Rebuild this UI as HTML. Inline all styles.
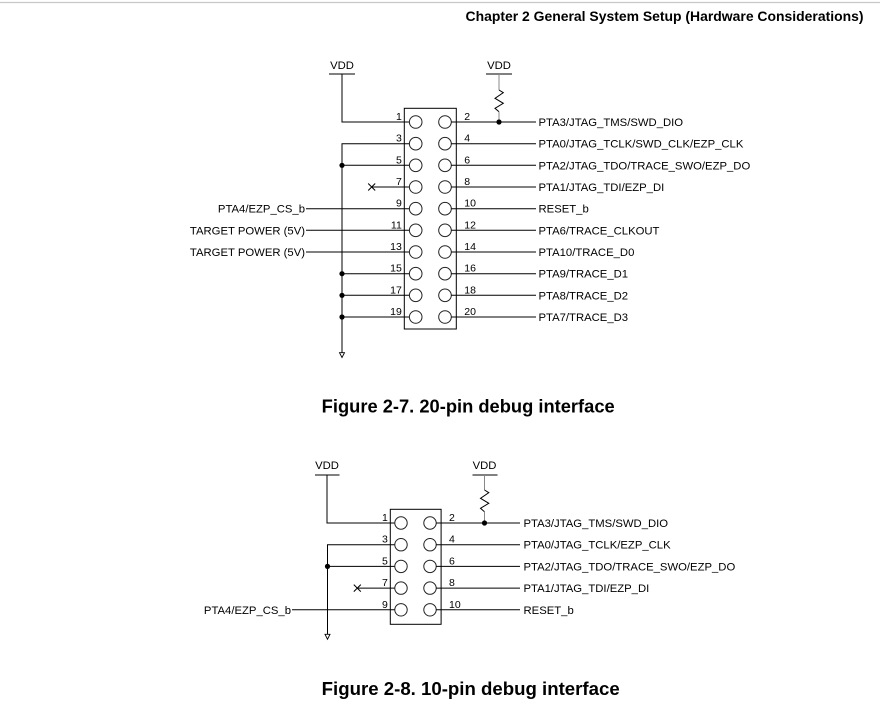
<!DOCTYPE html>
<html>
<head>
<meta charset="utf-8">
<style>
html,body{margin:0;padding:0;background:#fff;}
svg{display:block;}
text{font-family:"Liberation Sans",Arial,sans-serif;fill:#000;}
.lbl{font-size:11.3px;}
.num{font-size:10.5px;}
.ln{stroke:#000;stroke-width:1;fill:none;}
.cir{stroke:#222;stroke-width:1;fill:#fff;}
</style>
</head>
<body>
<svg width="880" height="713" viewBox="0 0 880 713" xmlns="http://www.w3.org/2000/svg">
<line x1="0" y1="2.5" x2="880" y2="2.5" stroke="#c8c8c8" stroke-width="1.2"/>
<text x="863.5" y="21" text-anchor="end" font-size="13.5" font-weight="bold" textLength="398" lengthAdjust="spacingAndGlyphs">Chapter 2 General System Setup (Hardware Considerations)</text>

<!-- ================= 20-pin ================= -->
<g>
  <text class="lbl" x="342" y="69" text-anchor="middle">VDD</text>
  <line class="ln" x1="329" y1="74" x2="355" y2="74"/>
  <polyline class="ln" points="342,74 342,122 409.4,122"/>
  <text class="lbl" x="499" y="69" text-anchor="middle">VDD</text>
  <line class="ln" x1="486" y1="74" x2="512" y2="74"/>
  <line x1="499" y1="74" x2="499" y2="90" stroke="#888" stroke-width="1"/>
  <polyline class="ln" points="499,90 503.3,92.7 495,98.3 503.3,103.3 495,108.3 499,111.7"/>
  <line x1="499" y1="111.7" x2="499" y2="122" stroke="#888" stroke-width="1"/>
  <circle cx="499" cy="122" r="2.6" fill="#000"/>

  <rect x="404.3" y="108.3" width="52" height="220.7" fill="none" stroke="#000" stroke-width="1"/>

  <polyline class="ln" points="409.4,143.7 342,143.7 342,352.7"/>
  <polygon points="339.5,352.7 344.5,352.7 342,357.5" fill="#fff" stroke="#000" stroke-width="0.9"/>
  <line class="ln" x1="342" y1="165.3" x2="409.4" y2="165.3"/>
  <circle cx="342" cy="165.3" r="2.6" fill="#000"/>
  <line class="ln" x1="342" y1="273.7" x2="409.4" y2="273.7"/>
  <circle cx="342" cy="273.7" r="2.6" fill="#000"/>
  <line class="ln" x1="342" y1="295.3" x2="409.4" y2="295.3"/>
  <circle cx="342" cy="295.3" r="2.6" fill="#000"/>
  <line class="ln" x1="342" y1="317" x2="409.4" y2="317"/>
  <circle cx="342" cy="317" r="2.6" fill="#000"/>

  <line class="ln" x1="371.7" y1="187" x2="409.4" y2="187"/>
  <line class="ln" x1="368.2" y1="183.5" x2="375.2" y2="190.5"/>
  <line class="ln" x1="368.2" y1="190.5" x2="375.2" y2="183.5"/>

  <text class="lbl" x="305" y="212.7" text-anchor="end">PTA4/EZP_CS_b</text>
  <line class="ln" x1="306" y1="208.7" x2="409.4" y2="208.7"/>
  <text class="lbl" x="305" y="234.3" text-anchor="end">TARGET POWER (5V)</text>
  <line class="ln" x1="306" y1="230.3" x2="409.4" y2="230.3"/>
  <text class="lbl" x="305" y="256" text-anchor="end">TARGET POWER (5V)</text>
  <line class="ln" x1="306" y1="252" x2="409.4" y2="252"/>

  <g class="cir">
    <circle cx="415.7" cy="122" r="6.3"/><circle cx="445" cy="122" r="6.3"/>
    <circle cx="415.7" cy="143.7" r="6.3"/><circle cx="445" cy="143.7" r="6.3"/>
    <circle cx="415.7" cy="165.3" r="6.3"/><circle cx="445" cy="165.3" r="6.3"/>
    <circle cx="415.7" cy="187" r="6.3"/><circle cx="445" cy="187" r="6.3"/>
    <circle cx="415.7" cy="208.7" r="6.3"/><circle cx="445" cy="208.7" r="6.3"/>
    <circle cx="415.7" cy="230.3" r="6.3"/><circle cx="445" cy="230.3" r="6.3"/>
    <circle cx="415.7" cy="252" r="6.3"/><circle cx="445" cy="252" r="6.3"/>
    <circle cx="415.7" cy="273.7" r="6.3"/><circle cx="445" cy="273.7" r="6.3"/>
    <circle cx="415.7" cy="295.3" r="6.3"/><circle cx="445" cy="295.3" r="6.3"/>
    <circle cx="415.7" cy="317" r="6.3"/><circle cx="445" cy="317" r="6.3"/>
  </g>

  <g text-anchor="end">
    <text class="num" x="401.8" y="120">1</text>
    <text class="num" x="401.8" y="141.7">3</text>
    <text class="num" x="401.8" y="163.3">5</text>
    <text class="num" x="401.8" y="185">7</text>
    <text class="num" x="401.8" y="206.7">9</text>
    <text class="num" x="401.8" y="228.3">11</text>
    <text class="num" x="401.8" y="250">13</text>
    <text class="num" x="401.8" y="271.7">15</text>
    <text class="num" x="401.8" y="293.3">17</text>
    <text class="num" x="401.8" y="315">19</text>
  </g>
  <g>
    <text class="num" x="464.3" y="120">2</text>
    <text class="num" x="464.3" y="141.7">4</text>
    <text class="num" x="464.3" y="163.3">6</text>
    <text class="num" x="464.3" y="185">8</text>
    <text class="num" x="464.3" y="206.7">10</text>
    <text class="num" x="464.3" y="228.3">12</text>
    <text class="num" x="464.3" y="250">14</text>
    <text class="num" x="464.3" y="271.7">16</text>
    <text class="num" x="464.3" y="293.3">18</text>
    <text class="num" x="464.3" y="315">20</text>
  </g>

  <g class="ln">
    <line x1="451.3" y1="122" x2="536" y2="122"/>
    <line x1="451.3" y1="143.7" x2="536" y2="143.7"/>
    <line x1="451.3" y1="165.3" x2="536" y2="165.3"/>
    <line x1="451.3" y1="187" x2="536" y2="187"/>
    <line x1="451.3" y1="208.7" x2="536" y2="208.7"/>
    <line x1="451.3" y1="230.3" x2="536" y2="230.3"/>
    <line x1="451.3" y1="252" x2="536" y2="252"/>
    <line x1="451.3" y1="273.7" x2="536" y2="273.7"/>
    <line x1="451.3" y1="295.3" x2="536" y2="295.3"/>
    <line x1="451.3" y1="317" x2="536" y2="317"/>
  </g>
  <text class="lbl" x="538.5" y="126">PTA3/JTAG_TMS/SWD_DIO</text>
  <text class="lbl" x="538.5" y="147.7">PTA0/JTAG_TCLK/SWD_CLK/EZP_CLK</text>
  <text class="lbl" x="538.5" y="169.3">PTA2/JTAG_TDO/TRACE_SWO/EZP_DO</text>
  <text class="lbl" x="538.5" y="191">PTA1/JTAG_TDI/EZP_DI</text>
  <text class="lbl" x="538.5" y="212.7">RESET_b</text>
  <text class="lbl" x="538.5" y="234.3">PTA6/TRACE_CLKOUT</text>
  <text class="lbl" x="538.5" y="256">PTA10/TRACE_D0</text>
  <text class="lbl" x="538.5" y="277.7">PTA9/TRACE_D1</text>
  <text class="lbl" x="538.5" y="299.3">PTA8/TRACE_D2</text>
  <text class="lbl" x="538.5" y="321">PTA7/TRACE_D3</text>
</g>

<text x="321.7" y="412.7" font-size="18" font-weight="bold" textLength="293" lengthAdjust="spacingAndGlyphs">Figure 2-7. 20-pin debug interface</text>

<!-- ================= 10-pin ================= -->
<g>
  <text class="lbl" x="327" y="469" text-anchor="middle">VDD</text>
  <line class="ln" x1="315" y1="475" x2="339.5" y2="475"/>
  <polyline class="ln" points="327,475 327,523 395,523"/>

  <text class="lbl" x="484.5" y="469" text-anchor="middle">VDD</text>
  <line class="ln" x1="472.5" y1="475" x2="497.5" y2="475"/>
  <line x1="484.5" y1="475" x2="484.5" y2="490" stroke="#888" stroke-width="1"/>
  <polyline class="ln" points="484.5,490 488.8,492.7 480.5,498.3 488.8,503.3 480.5,508.3 484.5,511.7"/>
  <line x1="484.5" y1="511.7" x2="484.5" y2="523" stroke="#888" stroke-width="1"/>
  <circle cx="484.5" cy="523" r="2.6" fill="#000"/>

  <rect x="390.3" y="509.3" width="50.8" height="115" fill="none" stroke="#000" stroke-width="1"/>

  <polyline class="ln" points="395,544.7 327.5,544.7 327.5,634.3"/>
  <polygon points="325,634.3 330,634.3 327.5,639.2" fill="#fff" stroke="#000" stroke-width="0.9"/>
  <line class="ln" x1="327.5" y1="566.4" x2="395" y2="566.4"/>
  <circle cx="327.5" cy="566.4" r="2.6" fill="#000"/>

  <line class="ln" x1="357.3" y1="588.1" x2="395" y2="588.1"/>
  <line class="ln" x1="353.8" y1="584.6" x2="360.8" y2="591.6"/>
  <line class="ln" x1="353.8" y1="591.6" x2="360.8" y2="584.6"/>

  <text class="lbl" x="291" y="613.8" text-anchor="end">PTA4/EZP_CS_b</text>
  <line class="ln" x1="292" y1="609.8" x2="395" y2="609.8"/>

  <g class="cir">
    <circle cx="401" cy="523" r="6.2"/><circle cx="430" cy="523" r="6.2"/>
    <circle cx="401" cy="544.7" r="6.2"/><circle cx="430" cy="544.7" r="6.2"/>
    <circle cx="401" cy="566.4" r="6.2"/><circle cx="430" cy="566.4" r="6.2"/>
    <circle cx="401" cy="588.1" r="6.2"/><circle cx="430" cy="588.1" r="6.2"/>
    <circle cx="401" cy="609.8" r="6.2"/><circle cx="430" cy="609.8" r="6.2"/>
  </g>

  <text class="num" x="387.8" y="521" text-anchor="end">1</text>
  <text class="num" x="387.8" y="542.7" text-anchor="end">3</text>
  <text class="num" x="387.8" y="564.4" text-anchor="end">5</text>
  <text class="num" x="387.8" y="586.1" text-anchor="end">7</text>
  <text class="num" x="387.8" y="607.8" text-anchor="end">9</text>

  <text class="num" x="449" y="521">2</text>
  <text class="num" x="449" y="542.7">4</text>
  <text class="num" x="449" y="564.4">6</text>
  <text class="num" x="449" y="586.1">8</text>
  <text class="num" x="449" y="607.8">10</text>

  <g class="ln">
    <line x1="436.2" y1="523" x2="520" y2="523"/>
    <line x1="436.2" y1="544.7" x2="520" y2="544.7"/>
    <line x1="436.2" y1="566.4" x2="520" y2="566.4"/>
    <line x1="436.2" y1="588.1" x2="520" y2="588.1"/>
    <line x1="436.2" y1="609.8" x2="520" y2="609.8"/>
  </g>
  <text class="lbl" x="523.5" y="527">PTA3/JTAG_TMS/SWD_DIO</text>
  <text class="lbl" x="523.5" y="548.7">PTA0/JTAG_TCLK/EZP_CLK</text>
  <text class="lbl" x="523.5" y="570.4">PTA2/JTAG_TDO/TRACE_SWO/EZP_DO</text>
  <text class="lbl" x="523.5" y="592.1">PTA1/JTAG_TDI/EZP_DI</text>
  <text class="lbl" x="523.5" y="613.8">RESET_b</text>
</g>

<text x="321.7" y="695" font-size="18" font-weight="bold" textLength="298" lengthAdjust="spacingAndGlyphs">Figure 2-8. 10-pin debug interface</text>
</svg>
</body>
</html>
